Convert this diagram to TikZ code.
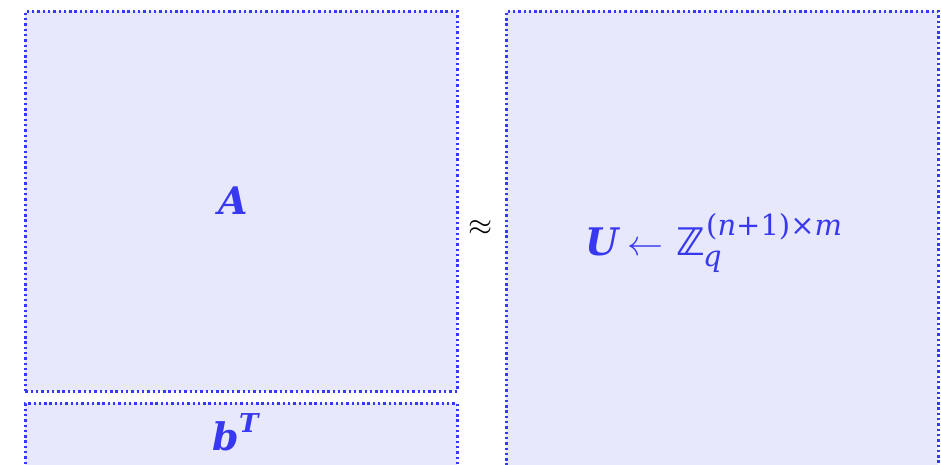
\RequirePackage{fix-cm}
\documentclass[tikz,border=0pt]{standalone}
\usepackage{fontspec}
\setmainfont{DejaVu Serif}
\newfontfamily\symfont{DejaVu Sans}
\definecolor{boxfill}{RGB}{232,232,252}
\definecolor{dotblue}{RGB}{55,55,250}
\definecolor{txtblue}{RGB}{56,56,240}
\begin{document}
\begin{tikzpicture}[x=1pt,y=-1pt,
  box/.style={draw=dotblue, fill=boxfill, line width=2.6pt, dash pattern=on 2.4pt off 2.9pt, anchor=north west, inner sep=0},
  mtxt/.style={text=txtblue, font=\fontsize{38}{38}\selectfont\bfseries\itshape, inner sep=0},
  stxt/.style={text=txtblue, font=\fontsize{29}{29}\selectfont, inner sep=0, anchor=base west}]
\useasboundingbox (0,0) rectangle (941,464);
\clip (0,0) rectangle (941,464);
\node[box, minimum width=432pt, minimum height=380pt] (Abox) at (24,10) {};
\node[box, minimum width=432pt, minimum height=90pt] (bbox) at (24,402) {};
\node[box, minimum width=432pt, minimum height=470pt] (Ubox) at (505,10) {};
\node[mtxt, anchor=base] (A) at (233,214) {A};
\node[mtxt, anchor=base west] (b) at (212,450) {b};
\node[mtxt, anchor=base west, font=\fontsize{26}{26}\selectfont\bfseries\itshape] (T) at (239,432) {T};
\node[text=black, font=\fontsize{31}{31}\selectfont, inner sep=0] (approx) at (481,228) {$\approx$};
\node[mtxt, anchor=base west] (U) at (585,255) {U};
\node[text=txtblue, font=\fontsize{36}{36}\selectfont, inner sep=0, anchor=base west] (arr) at (627,255) {$\leftarrow$};
\node[text=txtblue, font=\symfont\bfseries\fontsize{38}{38}\selectfont, inner sep=0, anchor=base west] (Z) at (676,255) {ℤ};
\node[stxt] (q) at (703,266) {\itshape q};
\node[stxt] (sup) at (706,235) {(\textit{n}+1)×\textit{m}};
\end{tikzpicture}
\end{document}
